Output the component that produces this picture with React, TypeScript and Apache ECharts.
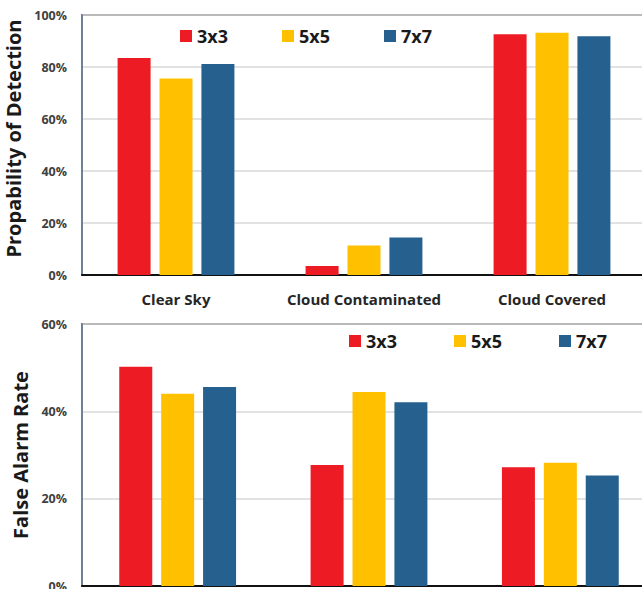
import React, { useEffect, useRef } from "react";
import * as echarts from "echarts";

const categories = ["Clear Sky", "Cloud Contaminated", "Cloud Covered"];
const seriesNames = ["3x3", "5x5", "7x7"];
const seriesColors = ["#ED1C24", "#FFC000", "#26608F"];

// Probability of Detection (%)
const pod3x3 = [83.5, 3.5, 92.6];
const pod5x5 = [75.6, 11.3, 93.2];
const pod7x7 = [81.2, 14.4, 91.8];

// False Alarm Rate (%)
const far3x3 = [50.2, 27.7, 27.2];
const far5x5 = [44.0, 44.4, 28.2];
const far7x7 = [45.6, 42.1, 25.3];

const podAxis = { min: 0, max: 100, interval: 20 };
const farAxis = { min: 0, max: 60, interval: 20 };

const FONT = "Open Sans";

export default function App() {
  const ref = useRef<HTMLDivElement>(null);

  useEffect(() => {
    document.body.style.margin = "0";
    if (!ref.current) return;
    const chart = echarts.init(ref.current, undefined, { renderer: "svg" });

    const yLabel = {
      formatter: "{value}%",
      fontFamily: FONT,
      fontSize: 12.5,
      fontWeight: "bold" as const,
      color: "#404040",
      margin: 15,
    };
    const yName = {
      fontFamily: FONT,
      fontSize: 20,
      fontWeight: "bold" as const,
      color: "#1a1a1a",
    };
    const legendCommon = {
      icon: "rect",
      itemWidth: 12,
      itemHeight: 12,
      padding: 0,
      textStyle: {
        fontFamily: FONT,
        fontSize: 18,
        fontWeight: "bold" as const,
        color: "#1a1a1a",
      },
      data: seriesNames,
      selectedMode: false,
    };

    const podData = [pod3x3, pod5x5, pod7x7];
    const farData = [far3x3, far5x5, far7x7];

    const series: any[] = [];
    seriesNames.forEach((name, i) => {
      series.push({
        name,
        type: "bar",
        xAxisIndex: 0,
        yAxisIndex: 0,
        data: podData[i],
        barWidth: 33,
        barGap: "27%",
        itemStyle: { color: seriesColors[i] },
      });
    });
    seriesNames.forEach((name, i) => {
      series.push({
        name,
        type: "bar",
        xAxisIndex: 1,
        yAxisIndex: 1,
        data: farData[i],
        barWidth: 33,
        barGap: "27%",
        itemStyle: { color: seriesColors[i] },
      });
    });

    chart.setOption({
      animation: false,
      backgroundColor: "#ffffff",
      grid: [
        {
          left: 82,
          top: 15,
          width: 564,
          height: 260,
          outerBoundsMode: "none",
          containLabel: false,
          show: true,
          borderColor: "#2b2b2b",
          borderWidth: 1.5,
          backgroundColor: "transparent",
        },
        {
          left: 82,
          top: 324,
          width: 574,
          height: 262,
          outerBoundsMode: "none",
          containLabel: false,
          show: true,
          borderColor: "#2b2b2b",
          borderWidth: 1.5,
          backgroundColor: "transparent",
        },
      ],
      legend: [
        { ...legendCommon, left: 180, top: 27, itemGap: 54 },
        { ...legendCommon, left: 349, top: 332, itemGap: 57 },
      ],
      xAxis: [
        {
          type: "category",
          gridIndex: 0,
          data: categories,
          axisTick: { show: false },
          axisLine: { lineStyle: { color: "#111111", width: 2 } },
          axisLabel: {
            interval: 0,
            fontFamily: FONT,
            fontSize: 15,
            fontWeight: "bold",
            color: "#262626",
            margin: 16,
          },
        },
        {
          type: "category",
          gridIndex: 1,
          data: categories,
          axisTick: { show: false },
          axisLine: { lineStyle: { color: "#111111", width: 2 } },
          axisLabel: { show: false },
        },
      ],
      yAxis: [
        {
          type: "value",
          gridIndex: 0,
          ...podAxis,
          name: "Propability of Detection",
          nameLocation: "middle",
          nameGap: 51,
          nameTextStyle: { ...yName, padding: [0, 0, 0, 13] },
          axisLine: { show: true, lineStyle: { color: "#6f8196", width: 2 } },
          axisTick: { show: false },
          axisLabel: yLabel,
          splitLine: { lineStyle: { color: "#d9d9d9", width: 1.5 } },
        },
        {
          type: "value",
          gridIndex: 1,
          ...farAxis,
          name: "False Alarm Rate",
          nameLocation: "middle",
          nameGap: 51,
          nameTextStyle: yName,
          axisLine: { show: true, lineStyle: { color: "#6f8196", width: 2 } },
          axisTick: { show: false },
          axisLabel: yLabel,
          splitLine: { lineStyle: { color: "#d9d9d9", width: 1.5 } },
        },
      ],
      series,
    });

    return () => chart.dispose();
  }, []);

  return <div ref={ref} style={{ width: 642, height: 589 }} />;
}
